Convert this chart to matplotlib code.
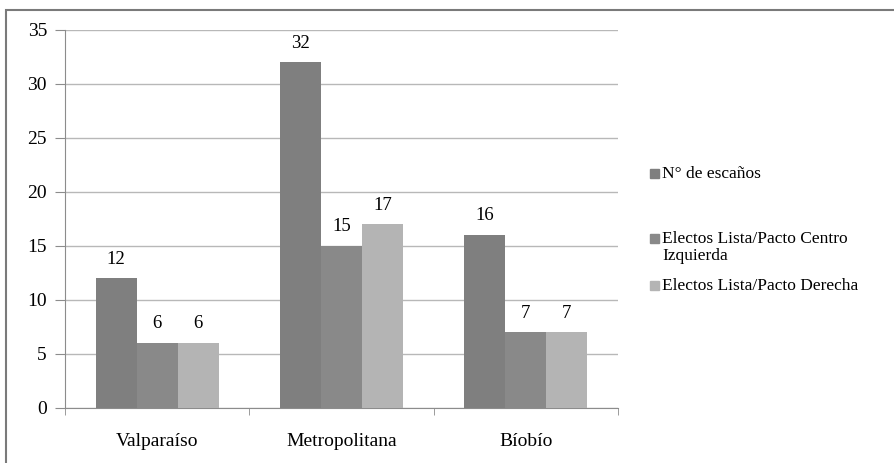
import numpy as np
import matplotlib.pyplot as plt
from matplotlib.patches import Rectangle

regiones = ['Valparaíso', 'Metropolitana', 'Bíobío']
escanos = [12, 32, 16]
centro_izq = [6, 15, 7]
derecha = [6, 17, 7]
series = ['N° de escaños', 'Electos Lista/Pacto Centro\nIzquierda', 'Electos Lista/Pacto Derecha']
colors = ['#7f7f7f', '#898989', '#b4b4b4']

plt.rcParams['font.family'] = ['Liberation Serif', 'DejaVu Serif']

W, H = 894, 463
fig = plt.figure(figsize=(W/100, H/100), dpi=100)
ax = fig.add_axes([65/W, 1-408/H, (618-65)/W, (408-30)/H])

# outer chart frame (top and left edges)
fig.patches.append(Rectangle((6/W, -0.1), 2, 1.1-10/H, transform=fig.transFigure,
                             fill=False, edgecolor='#7a7a7a', linewidth=1.5))

index = np.arange(len(regiones))
bar_width = 1/4.5
data = [escanos, centro_izq, derecha]
for i in range(len(data)):
	pos = index + (i-1)*bar_width
	ax.bar(pos, data[i], bar_width, color=colors[i], zorder=3)
	for x, v in zip(pos, data[i]):
		ax.text(x, v+1.0, str(v), ha='center', va='bottom', fontsize=13.5)

ax.set_xlim(-0.5, 2.5)
ax.set_ylim(0, 35)
ax.set_yticks(range(0, 36, 5))
ax.yaxis.grid(True, color='#b8b8b8', linewidth=1)
ax.set_axisbelow(True)
ax.set_xticks(index)
ax.set_xticklabels(regiones, fontsize=14)
ax.set_xticks([-0.5, 0.5, 1.5, 2.5], minor=True)
ax.tick_params(axis='x', which='major', length=0, pad=18)
ax.tick_params(axis='x', which='minor', length=5, color='#8c8c8c')
ax.tick_params(axis='y', length=7, color='#8c8c8c', labelsize=14, pad=6)
for s in ['top', 'right']:
	ax.spines[s].set_visible(False)
for s in ['left', 'bottom']:
	ax.spines[s].set_color('#8c8c8c')

# legend drawn by hand: square on the first line of each entry
legend_y = [173, 238, 285]
for lab, c, y in zip(series, colors, legend_y):
	fig.patches.append(Rectangle((650/W, 1-(y+4.5)/H), 9/W, 9/H,
	                             transform=fig.transFigure, color=c))
	fig.text(662/W, 1-(y-7)/H, lab, ha='left', va='top', fontsize=12.5,
	         linespacing=1.05)

fig.savefig('out.png', dpi=100)
